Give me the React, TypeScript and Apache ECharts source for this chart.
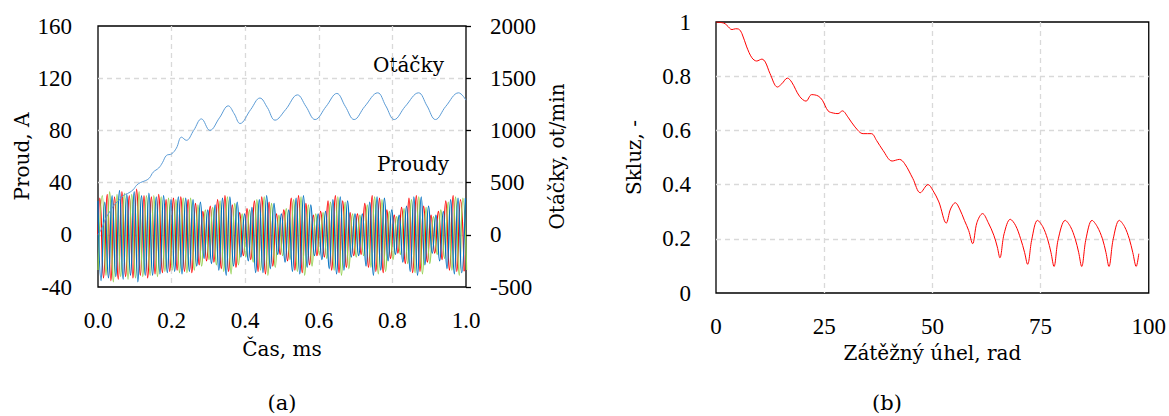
import React, { useEffect, useRef } from "react";
import * as echarts from "echarts";

// ---------- Chart (a): currents + speed ----------
const HALF_PERIOD = 0.01;

// start values at t = 0
const RED_START = 0;
const GREEN_START = -27;
const BLUE_START = 26;
// time of first listed peak of each phase
const RED_FIRST_PEAK = 0.005;
const GREEN_FIRST_PEAK = 0.01167;
const BLUE_FIRST_PEAK = 0.00833;

// successive half-cycle peaks (A) of each phase current
const RED_PEAKS = [
  28, -33, 31, -35, 29, -34, 33, -32, 30, -33, 35, -31, 30, -33, 29, -30, 31, -29, 27, -28,
  28, -27, 29, -28, 27, -29, 24, -23, 18, -20, 22, -21, 27, -26, 30, -28, 23, -25, 17, -16,
  20, -19, 26, -28, 29, -30, 25, -24, 16, -15, 19, -20, 28, -27, 30, -29, 24, -23, 15, -16,
  18, -17, 26, -27, 30, -29, 26, -25, 17, -16, 16, -15, 24, -25, 30, -28, 28, -29, 19, -18,
  15, -14, 21, -22, 28, -29, 30, -28, 22, -21, 15, -14, 18, -19, 26, -27, 30, -28, 27, -28,
];
const GREEN_PEAKS = [
  30, -31, 33, -36, 31, -32, 32, -34, 31, -33, 33, -32, 30, -31, 30, -32, 29, -28, 28, -27,
  27, -29, 28, -29, 28, -27, 23, -24, 19, -19, 21, -23, 26, -28, 29, -30, 24, -23, 16, -17,
  19, -21, 27, -27, 29, -31, 24, -25, 15, -16, 20, -19, 27, -28, 29, -31, 23, -24, 16, -15,
  17, -18, 25, -27, 29, -31, 25, -26, 16, -17, 15, -16, 23, -25, 29, -30, 27, -28, 18, -19,
  14, -15, 20, -22, 27, -29, 29, -30, 21, -22, 14, -15, 19, -18, 25, -27, 29, -31, 28, -27,
];
const BLUE_PEAKS = [
  -35, 25, -33, 30, -32, 34, -34, 31, -31, 33, -36, 30, -31, 32, -31, 29, -30, 30, -29, 27,
  -28, 29, -30, 28, -28, 27, -24, 25, -18, 19, -22, 23, -27, 28, -31, 29, -24, 25, -17, 16,
  -20, 21, -29, 27, -29, 30, -26, 24, -15, 16, -21, 19, -28, 28, -30, 30, -25, 23, -16, 16,
  -19, 18, -26, 27, -30, 29, -27, 26, -17, 16, -16, 16, -24, 25, -31, 29, -27, 28, -20, 19,
  -15, 15, -21, 22, -28, 29, -31, 29, -23, 22, -14, 15, -20, 18, -26, 27, -30, 28, -29, 28,
];

// speed (ot/min)
const SPEED_T = [
  0, 0.01, 0.02, 0.03, 0.045, 0.06, 0.07, 0.08, 0.095, 0.105, 0.115, 0.13, 0.14, 0.15, 0.165,
  0.175, 0.186, 0.2, 0.213, 0.227, 0.24, 0.26, 0.281, 0.304, 0.33, 0.354, 0.37, 0.386, 0.415,
  0.44, 0.46, 0.481, 0.51, 0.542, 0.565, 0.59, 0.62, 0.649, 0.672, 0.696, 0.725, 0.76, 0.782,
  0.805, 0.835, 0.871, 0.894, 0.917, 0.945, 0.98, 1.0,
];
const SPEED_V = [
  0, 60, 150, 210, 290, 340, 380, 395, 430, 475, 500, 520, 545, 600, 640, 690, 760, 775, 830,
  935, 905, 1000, 1110, 1000, 1120, 1235, 1160, 1066, 1200, 1310, 1220, 1098, 1200, 1340, 1230,
  1104, 1230, 1354, 1230, 1104, 1230, 1360, 1235, 1104, 1230, 1360, 1235, 1104, 1230, 1360, 1290,
];

// ---------- Chart (b): slip vs load angle ----------
const SLIP_ANGLE = [
  0, 1.8, 2.5, 3.7, 4.5, 5.2, 6.0, 7.1, 8.3, 9.4, 10.6, 11.4, 12.5, 14.2, 15.2, 16.5, 17.5,
  19.3, 20.8, 22.1, 23.6, 24.6, 25.9, 27.1, 28.2, 29.2, 30.5, 32.1, 34.0, 35.9, 37.1, 38.6,
  40.7, 42.4, 43.6, 45.5, 47.2, 49.0, 50.1, 51.5, 53.2, 54.2, 55.3, 56.3, 57.4, 58.4, 59.3,
  60.3, 61.6, 62.9, 64.2, 65.0, 65.6, 66.6, 68.0, 69.2, 70.4, 71.3, 72.0, 73.0, 74.3, 75.5,
  76.6, 77.4, 78.1, 79.1, 80.7, 81.9, 83.0, 83.8, 84.5, 85.5, 86.9, 88.1, 89.3, 90.1, 90.8,
  91.8, 93.2, 94.4, 95.5, 96.3, 97.1, 97.7,
];
const SLIP_VALUE = [
  1.0, 0.996, 0.988, 0.972, 0.975, 0.974, 0.957, 0.908, 0.868, 0.856, 0.863, 0.852, 0.809,
  0.76, 0.772, 0.793, 0.778, 0.726, 0.708, 0.732, 0.727, 0.711, 0.672, 0.664, 0.662, 0.672,
  0.649, 0.613, 0.588, 0.588, 0.563, 0.526, 0.487, 0.493, 0.477, 0.422, 0.37, 0.4, 0.379,
  0.336, 0.258, 0.31, 0.333, 0.31, 0.268, 0.23, 0.182, 0.26, 0.293, 0.26, 0.213, 0.17, 0.13,
  0.22, 0.272, 0.25, 0.2, 0.15, 0.106, 0.2, 0.268, 0.245, 0.2, 0.15, 0.098, 0.2, 0.268, 0.245,
  0.2, 0.15, 0.098, 0.2, 0.268, 0.245, 0.2, 0.15, 0.098, 0.2, 0.268, 0.245, 0.2, 0.15, 0.098,
  0.145,
];

const TICK_FONT = "Liberation Serif";
const TICK_FS = 23;
const NAME_FONT = "DejaVu Serif";
const NAME_FS = 20;

function phaseData(start: number, first: number, peaks: number[]) {
  const d: number[][] = [[0, start]];
  peaks.forEach((v, i) => d.push([first + i * HALF_PERIOD, v]));
  return d;
}

export default function App() {
  const ref = useRef<HTMLDivElement>(null);
  useEffect(() => {
    if (!ref.current) return;
    const chart = echarts.init(ref.current, undefined, { renderer: "svg" });
    const split = {
      show: true,
      showMinLine: false,
      showMaxLine: false,
      lineStyle: { color: "#d9d9d9", type: [5, 4] as any, width: 1.3 },
    };
    const tick = { color: "#000", fontFamily: TICK_FONT, fontSize: TICK_FS };
    const nameStyle = { color: "#000", fontFamily: NAME_FONT, fontSize: NAME_FS };
    const ann = (text: string, extra: any) => ({
      type: "text",
      ...extra,
      style: { text, fontFamily: NAME_FONT, fontSize: NAME_FS, fill: "#000", ...(extra.style || {}) },
    });
    const option: any = {
      animation: false,
      backgroundColor: "#fff",
      grid: [
        { left: 98, right: 703, top: 26, bottom: 129, show: true, borderColor: "#000", borderWidth: 1.3 },
        { left: 716, right: 19, top: 22, bottom: 123, show: true, borderColor: "#000", borderWidth: 1.3 },
      ],
      xAxis: [
        {
          type: "value", gridIndex: 0, min: 0, max: 1, interval: 0.2,
          axisLine: { show: false }, axisTick: { show: false },
          axisLabel: { ...tick, margin: 22, formatter: (v: number) => v.toFixed(1) },
          splitLine: split,
          name: "Čas, ms", nameLocation: "middle", nameGap: 52, nameTextStyle: nameStyle,
        },
        {
          type: "value", gridIndex: 1, min: 0, max: 100, interval: 25,
          axisLine: { show: false }, axisTick: { show: false },
          axisLabel: { ...tick, margin: 22, formatter: (v: number) => String(v) },
          splitLine: split,
          name: "Zátěžný úhel, rad", nameLocation: "middle", nameGap: 46, nameTextStyle: nameStyle,
        },
      ],
      yAxis: [
        {
          type: "value", gridIndex: 0, min: -40, max: 160, interval: 40,
          axisLine: { show: false }, axisTick: { show: false },
          axisLabel: { ...tick, margin: 26, formatter: (v: number) => String(v) },
          splitLine: split,
          name: "Proud, A", nameLocation: "middle", nameGap: 66, nameTextStyle: nameStyle,
        },
        {
          type: "value", gridIndex: 0, position: "right", min: -500, max: 2000, interval: 500,
          axisLine: { show: false },
          axisTick: { show: true, length: 5, lineStyle: { color: "#000", width: 1.3 } },
          axisLabel: { ...tick, margin: 24, formatter: (v: number) => String(v) },
          splitLine: { show: false },
          name: "Otáčky, ot/min", nameLocation: "middle", nameGap: 81, nameTextStyle: nameStyle,
        },
        {
          type: "value", gridIndex: 1, min: 0, max: 1, interval: 0.2,
          axisLine: { show: false }, axisTick: { show: false },
          axisLabel: { ...tick, margin: 25, formatter: (v: number) => String(Math.round(v * 10) / 10) },
          splitLine: split,
          name: "Skluz, -", nameLocation: "middle", nameGap: 72, nameTextStyle: nameStyle,
        },
      ],
      series: [
        {
          type: "line", xAxisIndex: 0, yAxisIndex: 0, data: phaseData(RED_START, RED_FIRST_PEAK, RED_PEAKS),
          smooth: 0.5, showSymbol: false, lineStyle: { color: "#ff0000", width: 1.3 },
        },
        {
          type: "line", xAxisIndex: 0, yAxisIndex: 0, data: phaseData(GREEN_START, GREEN_FIRST_PEAK, GREEN_PEAKS),
          smooth: 0.5, showSymbol: false, lineStyle: { color: "#92d050", width: 1.3 },
        },
        {
          type: "line", xAxisIndex: 0, yAxisIndex: 0, data: phaseData(BLUE_START, BLUE_FIRST_PEAK, BLUE_PEAKS),
          smooth: 0.5, showSymbol: false, lineStyle: { color: "#0070c0", width: 1.3 },
        },
        {
          type: "line", xAxisIndex: 0, yAxisIndex: 1,
          data: SPEED_T.map((t, i) => [t, SPEED_V[i]]),
          smooth: 0.4, showSymbol: false, lineStyle: { color: "#5b9bd5", width: 1 },
        },
        {
          type: "line", xAxisIndex: 1, yAxisIndex: 2,
          data: SLIP_ANGLE.map((a, i) => [a, SLIP_VALUE[i]]),
          smooth: 0.35, showSymbol: false, lineStyle: { color: "#ff0000", width: 1 },
        },
      ],
      graphic: [
        ann("Otáčky", { left: 373, top: 55 }),
        ann("Proudy", { left: 377, top: 154 }),
        ann("(a)", { x: 282, y: 403, style: { textAlign: "center", textVerticalAlign: "middle", fontSize: 21 } }),
        ann("(b)", { x: 887, y: 403, style: { textAlign: "center", textVerticalAlign: "middle", fontSize: 21 } }),
      ],
    };
    chart.setOption(option);
    return () => chart.dispose();
  }, []);
  return (
    <div
      ref={ref}
      style={{ position: "fixed", left: 0, top: 0, width: 1169, height: 416, background: "#fff" }}
    />
  );
}
